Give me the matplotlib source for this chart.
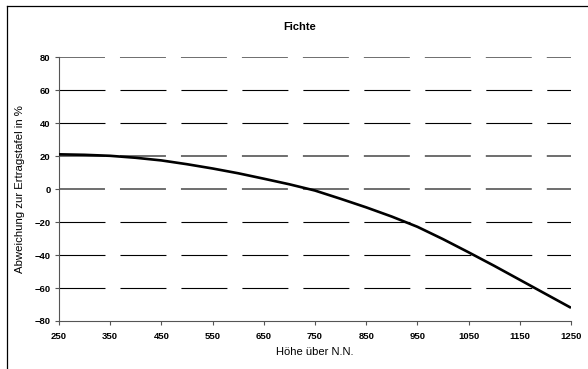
import matplotlib
matplotlib.use("Agg")
import matplotlib.pyplot as plt
from matplotlib.lines import Line2D

plt.rcParams['font.family'] = ['Liberation Sans', 'DejaVu Sans']

# Altitude above sea level and deviation from the yield table (%)
hoehe = [250, 300, 350, 400, 450, 500, 550, 600, 650, 700, 750,
         800, 850, 900, 950, 1000, 1050, 1100, 1150, 1200, 1250]
abweichung = [21.2, 20.9, 20.3, 19.1, 17.5, 15.2, 12.6, 9.7, 6.4, 3.0, -0.8,
              -5.8, -11.0, -16.6, -22.8, -30.3, -38.3, -46.5, -55.0, -63.5, -72.0]

x_ticks = [250, 350, 450, 550, 650, 750, 850, 950, 1050, 1150, 1250]
y_ticks = [-80, -60, -40, -20, 0, 20, 40, 60, 80]

fig = plt.figure(figsize=(5.88, 3.69), dpi=100)
ax = fig.add_axes([0.1003, 0.1301, 0.8708, 0.7141])

# dashed horizontal grid
for yv in y_ticks[1:]:
    soft = yv in (80, 20, 0)
    w = 1.4 if soft else 0.8
    ax.axhline(yv, color='#6e6e6e' if soft else 'black', lw=w,
               linestyle=(0, (33.1 / w, 10.8 / w)),
               dash_capstyle='butt', zorder=1)

ax.plot(hoehe, abweichung, color='black', lw=1.9, zorder=3,
        solid_joinstyle='round', solid_capstyle='butt')

ax.set_xlim(250, 1250)
ax.set_ylim(-80, 80)
ax.set_xticks(x_ticks)
ax.set_yticks(y_ticks)
ax.tick_params(axis='both', direction='out', length=3, width=0.8,
               color='#555555', labelsize=6.8, pad=3)
for lab in ax.get_xticklabels() + ax.get_yticklabels():
    lab.set_fontweight('bold')
ax.tick_params(axis='x', pad=5)

for s in ['top', 'right']:
    ax.spines[s].set_visible(False)
for s in ['left', 'bottom']:
    ax.spines[s].set_color('#555555')
    ax.spines[s].set_linewidth(0.8)

ax.set_xlabel('Höhe über N.N.', fontsize=8, labelpad=4)
ax.set_ylabel('Abweichung zur Ertragstafel in %', fontsize=8.2, labelpad=7)
fig.text(300 / 588, 1 - 27 / 369, 'Fichte', ha='center', va='center',
         fontsize=8, fontweight='bold')

# frame lines at the left and top edge of the figure
fig.add_artist(Line2D([6.5 / 588, 6.5 / 588], [0, 1 - 5.5 / 369],
                      transform=fig.transFigure, color='black', lw=0.9))
fig.add_artist(Line2D([6.5 / 588, 1], [1 - 5.5 / 369, 1 - 5.5 / 369],
                      transform=fig.transFigure, color='black', lw=0.9))

fig.savefig('out.png', dpi=100, facecolor='white')
